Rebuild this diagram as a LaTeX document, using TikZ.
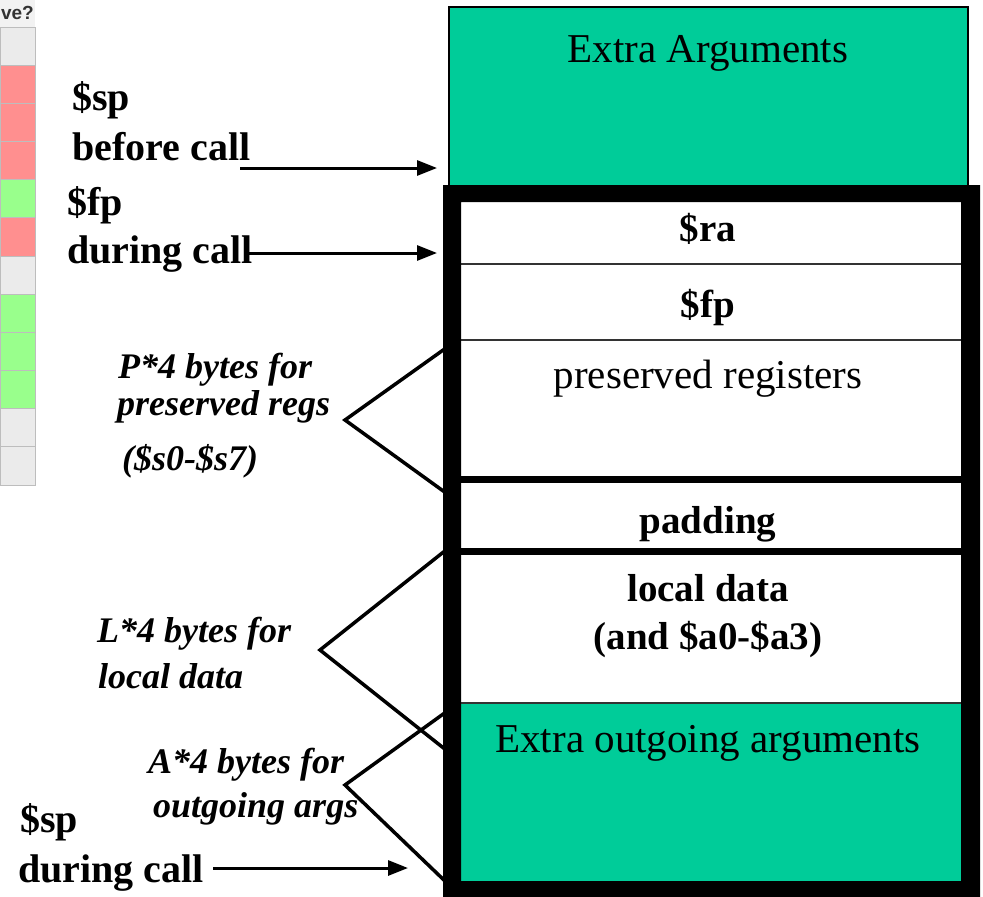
\documentclass[tikz,border=0pt]{standalone}
\usepackage{fontspec}
\setmainfont{Liberation Serif}
\setsansfont{Liberation Sans}
\usetikzlibrary{arrows.meta}

\definecolor{stackteal}{HTML}{00CC99}
\definecolor{tpink}{HTML}{FF8F8F}
\definecolor{tgreen}{HTML}{99FF8C}
\definecolor{tgrey}{HTML}{EBEBEB}
\definecolor{thead}{HTML}{F2F2F2}
\definecolor{tline}{HTML}{BDBDBD}
\definecolor{darkline}{HTML}{333333}

\begin{document}
\begin{tikzpicture}[x=1pt,y=-1pt,
  sidelbl/.style={font=\fontsize{40}{50}\selectfont\bfseries, anchor=base west, inner sep=0pt},
  brlbl/.style={font=\fontsize{36}{40}\selectfont\bfseries\itshape, anchor=base west, inner sep=0pt},
  cell/.style={font=\fontsize{41}{48}\selectfont, anchor=base, inner sep=0pt},
  cellb/.style={font=\fontsize{39}{46}\selectfont\bfseries, anchor=base, inner sep=0pt},
  ptr/.style={line width=3pt, -{Triangle[length=20pt,width=15pt]}},
  spanline/.style={line width=3.5pt, line join=miter},
  rowline/.style={line width=1.5pt, draw=darkline}]

\useasboundingbox (0,0) rectangle (983,897);
\fill[white] (0,0) rectangle (983,897);

% clipped table column at the left edge
\fill[thead] (0,0) rectangle (35,27);
\foreach \i/\c in {0/tgrey,1/tpink,2/tpink,3/tpink,4/tgreen,5/tpink,6/tgrey,7/tgreen,8/tgreen,9/tgreen,10/tgrey,11/tgrey}
  \filldraw[fill=\c, draw=tline, line width=1pt] (0,27+38.17*\i) rectangle (35,27+38.17*\i+38.17);
\node[font=\sffamily\bfseries\fontsize{19}{19}\selectfont, anchor=base east, inner sep=0pt, text=darkline] (hdr) at (34,19) {ve?};

% caller's extra arguments
\filldraw[fill=stackteal, draw=black, line width=2pt] (449,7) rectangle (968,190);

% outgoing argument area
\fill[stackteal] (461,703) rectangle (961,881);

% row separators
\draw[rowline] (461,264) -- (961,264);
\draw[rowline] (461,340) -- (961,340);
\fill[black] (461,476) rectangle (961,483);
\fill[black] (461,548) rectangle (961,555);
\draw[rowline] (461,703) -- (961,703);

% spans marking the sizes
\draw[spanline] (446,348) -- (345,420) -- (446,493);
\draw[spanline] (446,550) -- (320,650) -- (446,750);
\draw[spanline] (446,712) -- (345,785) -- (446,882);

% heavy frame of the current stack frame
\fill[black, even odd rule] (443,185) rectangle (980,897) (461,202) rectangle (961,881);

% stack contents
\node[cell]  (extra) at (708,62)  {Extra Arguments};
\node[cellb] (ra)    at (708,241) {\$ra};
\node[cellb] (fp)    at (708,317) {\$fp};
\node[cell]  (pres)  at (708,388) {preserved registers};
\node[cellb] (pad)   at (708,533) {padding};
\node[cellb] (loc1)  at (708,601) {local data};
\node[cellb] (loc2)  at (708,649) {(and \$a0-\$a3)};
\node[cell]  (outg)  at (708,752) {Extra outgoing arguments};

% register pointers
\node[sidelbl] (spa) at (72,110) {\$sp};
\node[sidelbl] (spb) at (72,160) {before call};
\node[sidelbl] (fpa) at (67,215) {\$fp};
\node[sidelbl] (fpb) at (67,263) {during call};
\node[sidelbl] (spc) at (20,832) {\$sp};
\node[sidelbl] (spd) at (18,882) {during call};

\coordinate (spOldFrom) at (240,168);
\coordinate (spOldTo)   at (437,168);
\coordinate (fpFrom)    at (245,253);
\coordinate (fpTo)      at (437,253);
\coordinate (spNewFrom) at (213,868);
\coordinate (spNewTo)   at (408,868);
\draw[ptr] (spOldFrom) -- (spOldTo);
\draw[ptr] (fpFrom) -- (fpTo);
\draw[ptr] (spNewFrom) -- (spNewTo);

% size notes
\node[brlbl] (p1) at (118,378) {P*4 bytes for};
\node[brlbl] (p2) at (117,415) {preserved regs};
\node[brlbl] (p3) at (122,470) {(\$s0-\$s7)};
\node[brlbl] (l1) at (97,642)  {L*4 bytes for};
\node[brlbl] (l2) at (98,688)  {local data};
\node[brlbl] (a1) at (148,773) {A*4 bytes for};
\node[brlbl] (a2) at (153,817) {outgoing args};
\end{tikzpicture}
\end{document}
